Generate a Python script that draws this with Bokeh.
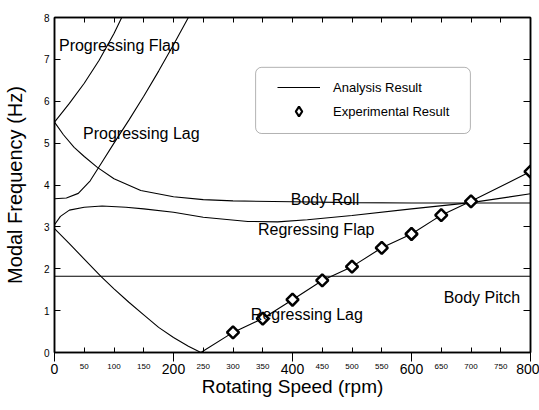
from bokeh.plotting import figure
from bokeh.models import (Range1d, FixedTicker, LinearAxis, Label,
                          Legend, LegendItem, BoxAnnotation)
from bokeh.embed import file_html
from bokeh.resources import INLINE

# --- analysis curves (rotating speed in rpm, frequency in Hz) ---
prog_flap_rpm = [0, 25, 50, 75, 100, 113, 120]
prog_flap_hz = [5.5, 5.95, 6.43, 6.98, 7.62, 8.0, 8.18]

prog_lag_rpm = [0, 20, 40, 60, 80, 100, 125, 150, 175, 200, 225, 235]
prog_lag_hz = [3.67, 3.69, 3.8, 4.1, 4.55, 5.0, 5.55, 6.12, 6.72, 7.35, 8.0, 8.26]

body_roll_rpm = [0, 15, 33, 50, 72, 100, 145, 200, 250, 300, 400, 500, 600, 700, 800]
body_roll_hz = [5.5, 5.2, 4.9, 4.68, 4.42, 4.15, 3.87, 3.72, 3.65, 3.62, 3.6, 3.58, 3.57, 3.57, 3.57]

reg_flap_rpm = [0, 10, 25, 50, 80, 120, 150, 200, 250, 325, 375, 425, 500, 600, 700, 800]
reg_flap_hz = [3.05, 3.25, 3.4, 3.47, 3.5, 3.47, 3.43, 3.35, 3.23, 3.13, 3.12, 3.17, 3.27, 3.43, 3.58, 3.79]

body_pitch_rpm = [0, 800]
body_pitch_hz = [1.82, 1.82]

reg_lag_rpm = [0, 25, 50, 78, 100, 125, 150, 175, 200, 225, 246,
               300, 350, 400, 450, 500, 550, 600, 650, 700, 800]
reg_lag_hz = [2.96, 2.6, 2.23, 1.82, 1.52, 1.2, 0.9, 0.6, 0.36, 0.15, 0.0,
              0.48, 0.81, 1.26, 1.72, 2.05, 2.5, 2.83, 3.28, 3.61, 4.32]

# --- measured points ---
exp_rpm = [300, 350, 400, 450, 500, 550, 600, 650, 700, 800]
exp_hz = [0.48, 0.81, 1.26, 1.72, 2.05, 2.5, 2.83, 3.28, 3.61, 4.32]

# --- ticks and labels ---
x_major_ticks = [0, 200, 400, 600, 800]
x_minor_ticks = [50, 100, 150, 250, 300, 350, 450, 500, 550, 650, 700, 750]
x_top_ticks = list(range(0, 801, 50))
y_ticks = [0, 1, 2, 3, 4, 5, 6, 7, 8]

mode_names = ["Progressing Flap", "Progressing Lag", "Body Roll",
              "Regressing Flap", "Body Pitch", "Regressing Lag"]

FONT = "Liberation Sans"
INK = "black"

p = figure(width=539, height=410, output_backend="svg", toolbar_location=None,
           x_range=Range1d(0, 800), y_range=Range1d(0, 8),
           min_border_left=54, min_border_right=9, min_border_top=17,
           min_border_bottom=58)
p.grid.visible = False
p.outline_line_color = INK
p.outline_line_width = 1.5
p.background_fill_color = "white"
p.border_fill_color = "white"


def ink(axis):
    axis.axis_line_color = INK
    axis.major_tick_line_color = INK
    axis.minor_tick_line_color = INK
    axis.major_label_text_color = INK
    axis.axis_label_text_color = INK


# bottom axis: ticks and the large labels
xa = p.xaxis[0]
ink(xa)
xa.ticker = FixedTicker(ticks=x_major_ticks, minor_ticks=x_minor_ticks)
xa.axis_line_width = 1.5
xa.major_tick_in = 0
xa.major_tick_out = 9
xa.minor_tick_in = 5
xa.minor_tick_out = 0
xa.major_label_text_font = FONT
xa.major_label_text_font_size = "14px"
xa.major_label_standoff = 2

# second bottom axis: small intermediate labels and the title
xb = LinearAxis(ticker=FixedTicker(ticks=x_minor_ticks))
ink(xb)
xb.axis_line_color = None
xb.major_tick_line_color = None
xb.major_tick_in = 0
xb.major_tick_out = 0
xb.minor_tick_in = 0
xb.minor_tick_out = 0
xb.major_label_text_font = FONT
xb.major_label_text_font_size = "8px"
xb.major_label_standoff = -13
xb.axis_label = "Rotating Speed (rpm)"
xb.axis_label_text_font = FONT
xb.axis_label_text_font_size = "19px"
xb.axis_label_text_font_style = "normal"
xb.axis_label_standoff = 4
p.add_layout(xb, "below")

# left axis
ya = p.yaxis[0]
ink(ya)
ya.ticker = FixedTicker(ticks=y_ticks)
ya.axis_line_width = 1.5
ya.major_tick_in = 6
ya.major_tick_out = 0
ya.minor_tick_in = 0
ya.minor_tick_out = 0
ya.major_label_text_font = FONT
ya.major_label_text_font_size = "10px"
ya.major_label_standoff = 5
ya.axis_label = "Modal Frequency (Hz)"
ya.axis_label_text_font = FONT
ya.axis_label_text_font_size = "20px"
ya.axis_label_text_font_style = "normal"
ya.axis_label_standoff = 15

# mirrored tick marks on top and right
top = LinearAxis(ticker=FixedTicker(ticks=x_top_ticks), major_tick_in=5,
                 major_tick_out=0, minor_tick_in=0, minor_tick_out=0,
                 major_label_overrides={t: "" for t in x_top_ticks},
                 axis_line_width=1.5)
right = LinearAxis(ticker=FixedTicker(ticks=y_ticks), major_tick_in=7,
                   major_tick_out=0, minor_tick_in=0, minor_tick_out=0,
                   major_label_overrides={t: "" for t in y_ticks},
                   axis_line_width=1.5)
ink(top)
ink(right)
p.add_layout(top, "above")
p.add_layout(right, "right")

# analysis curves
line_kw = dict(line_color=INK, line_width=1.1)
r_first = p.line(prog_flap_rpm, prog_flap_hz, **line_kw)
p.line(prog_lag_rpm, prog_lag_hz, **line_kw)
p.line(body_roll_rpm, body_roll_hz, **line_kw)
p.line(reg_flap_rpm, reg_flap_hz, **line_kw)
p.line(body_pitch_rpm, body_pitch_hz, **line_kw)
p.line(reg_lag_rpm, reg_lag_hz, **line_kw)

# experiment markers (rotated squares)
p.scatter(exp_rpm, exp_hz, marker="square", angle=45, angle_units="deg",
          size=8.5, fill_color="white", line_color=INK, line_width=2.5)
# diamond swatch used by the legend entry
r_key = p.scatter(exp_rpm, exp_hz, marker="diamond", size=12,
                  fill_color="white", line_color=INK, line_width=2.2,
                  visible=False)

# mode names
name_pos = [(7.5, 7.33), (48, 5.22), (397, 3.65), (342, 2.94), (654, 1.32), (330, 0.91)]
for name, (nx, ny) in zip(mode_names, name_pos):
    p.add_layout(Label(x=nx, y=ny, text=name, text_font=FONT, text_font_size="16px",
                       text_baseline="alphabetic", text_color=INK))

# legend frame
p.add_layout(BoxAnnotation(left=338, right=699, top=6.81, bottom=5.23,
                           fill_alpha=0, line_color=INK, line_width=1,
                           border_radius=6))
legend = Legend(items=[LegendItem(label="Analysis Result", renderers=[r_first]),
                       LegendItem(label="Experimental Result", renderers=[r_key])],
                location=(223, 229), padding=0, margin=0, spacing=-2,
                glyph_width=43, glyph_height=24, label_height=20,
                label_standoff=13, label_text_font=FONT,
                label_text_font_size="13px", label_text_color=INK,
                border_line_alpha=0, background_fill_alpha=0,
                inactive_fill_alpha=0, click_policy="none")
p.add_layout(legend)

open("out.html", "w").write(file_html(p, INLINE))
